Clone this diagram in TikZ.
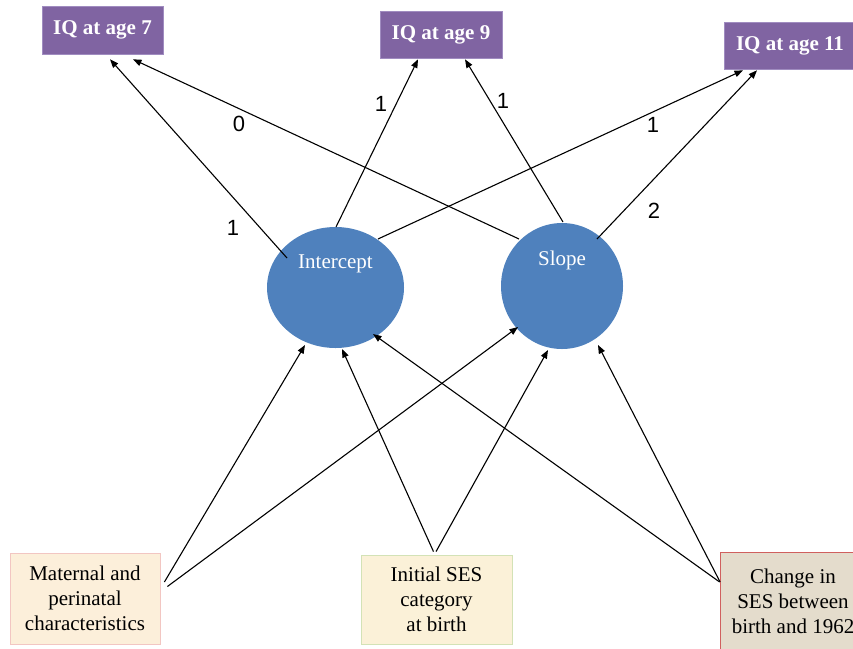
\documentclass[tikz,border=0pt]{standalone}
\usepackage{fontspec}
\setmainfont{Liberation Serif}
\newfontfamily\labfont{Liberation Sans}
\usetikzlibrary{arrows.meta,calc,shapes.geometric}
\definecolor{iqpurple}{HTML}{8064A2}
\definecolor{iqborder}{HTML}{A08CC0}
\definecolor{latblue}{HTML}{4F81BD}
\definecolor{parchA}{HTML}{FCEFDA}
\definecolor{parchB}{HTML}{FBF1D8}
\definecolor{parchC}{HTML}{E4DCCC}
\definecolor{pinkborder}{HTML}{F2C6C2}
\definecolor{greenborder}{HTML}{D3E2B6}
\definecolor{redborder}{HTML}{D0605E}
\begin{document}
\begin{tikzpicture}[x=1pt,y=-1pt,
  iqbox/.style={rectangle, fill=iqpurple, draw=iqborder, line width=0.6pt, text=white,
    font=\fontsize{21}{25}\selectfont\bfseries, inner sep=0pt},
  latent/.style={ellipse, fill=latblue, draw=none, inner sep=0pt},
  lattext/.style={text=white, font=\fontsize{21}{25}\selectfont, inner sep=0pt},
  obsbox/.style={rectangle, line width=0.8pt, align=center, text=black,
    font=\fontsize{21}{25}\selectfont, inner sep=0pt},
  coef/.style={font=\labfont\fontsize{22}{26}\selectfont, inner sep=0pt},
  arr/.style={-{Triangle[length=8.5pt,width=6.5pt]}, line width=1.1pt, black}
]
\useasboundingbox (0,0) rectangle (853,648);

% indicator boxes
\node[iqbox, minimum width=121pt, minimum height=48pt] (iq7) at (102.5,30) {IQ at age 7};
\node[iqbox, minimum width=122pt, minimum height=47pt] (iq9) at (441,34.5) {IQ at age 9};
\node[iqbox, minimum width=132pt, minimum height=47pt] (iq11) at (790,45.5) {IQ at age 11};

% latent factors
\node[latent, minimum width=137pt, minimum height=121pt] (int) at (335.5,287.5) {};
\node[latent, minimum width=122pt, minimum height=126pt] (slope) at (562,286) {};
\node[lattext] (inttext) at ($(int)+(0,-24)$) {Intercept};
\node[lattext] (slopetext) at ($(slope)+(0,-26)$) {Slope};

% covariate boxes
\node[obsbox, fill=parchA, draw=pinkborder, minimum width=150pt, minimum height=91pt] (mat) at (85,598.5)
  {Maternal and\\perinatal\\characteristics};
\node[obsbox, fill=parchB, draw=greenborder, minimum width=151pt, minimum height=89pt] (ini) at (436.5,599.5)
  {Initial SES\\category\\at birth};
\node[obsbox, fill=parchC, draw=redborder, minimum width=146pt, minimum height=98pt] (chg) at (793,601)
  {Change in\\SES between\\birth and 1962};

% loadings
\draw[arr] ($(int)+(-48.5,-29.5)$) -- ($(iq7.south)+(7.5,5)$);
\draw[arr] ($(slope)+(-43,-47)$) -- ($(iq7.south)+(30.5,5)$);
\draw[arr] ($(int)+(0.5,-60.5)$) -- ($(iq9.south)+(-23,1)$);
\draw[arr] ($(slope)+(1,-64)$) -- ($(iq9.south)+(24,1)$);
\draw[arr] ($(int)+(42.5,-48.5)$) -- ($(iq11.south)+(-47,1)$);
\draw[arr] ($(slope)+(35,-47)$) -- ($(iq11.south)+(-33,1)$);

% regressions
\draw[arr] ($(mat.east)+(4,-16.5)$) -- ($(int)+(-30.5,57.5)$);
\draw[arr] ($(mat.east)+(7,-12)$) -- ($(slope)+(-44,41)$);
\draw[arr] ($(ini.north)+(-3,-3)$) -- ($(int)+(6.5,61.5)$);
\draw[arr] ($(ini.north)+(-0.5,-3)$) -- ($(slope)+(-14,64)$);
\draw[arr] ($(chg.west)+(0,-19)$) -- ($(int)+(37.5,46.5)$);
\draw[arr] ($(chg.west)+(0.5,-19)$) -- ($(slope)+(36,59)$);

% coefficient labels
\node[coef] (c0) at (239,124) {0};
\node[coef] (c1a) at (233,228) {1};
\node[coef] (c1b) at (381,104) {1};
\node[coef] (c1c) at (503,101) {1};
\node[coef] (c1d) at (653,125) {1};
\node[coef] (c2) at (654,211) {2};
\end{tikzpicture}
\end{document}
